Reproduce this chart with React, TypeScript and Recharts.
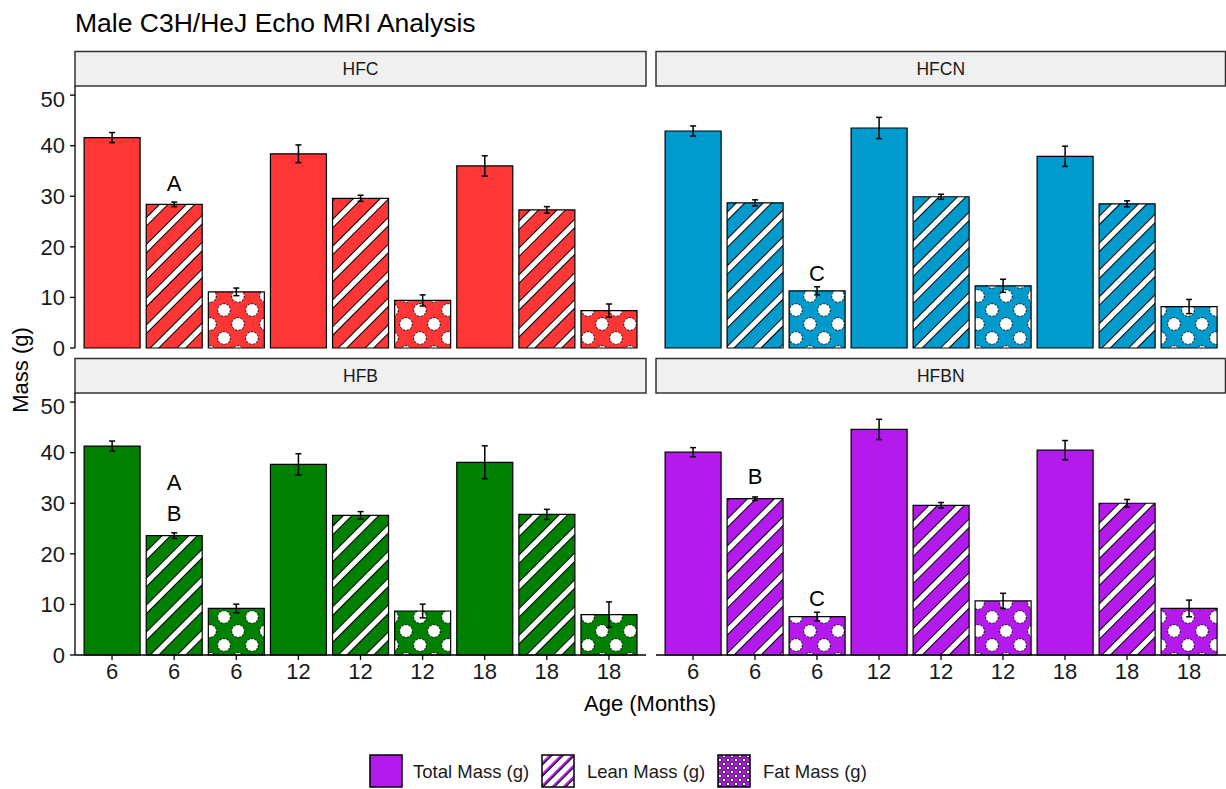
import React from 'react';
import { BarChart, Bar, XAxis, YAxis, Cell, ErrorBar, ReferenceDot } from 'recharts';

// facet order: HFC, HFCN / HFB, HFBN
const ages = ['6', '6', '6', '12', '12', '12', '18', '18', '18'];
const measures = ['Total', 'Lean', 'Fat', 'Total', 'Lean', 'Fat', 'Total', 'Lean', 'Fat'];

const hfcMass = [41.6, 28.4, 11.1, 38.4, 29.6, 9.4, 36.0, 27.3, 7.4];
const hfcErr = [1.0, 0.45, 0.75, 1.75, 0.6, 1.1, 2.0, 0.65, 1.3];
const hfcnMass = [42.9, 28.7, 11.3, 43.5, 29.9, 12.3, 37.9, 28.5, 8.2];
const hfcnErr = [1.0, 0.6, 0.8, 2.1, 0.5, 1.3, 2.0, 0.6, 1.4];
const hfbMass = [41.3, 23.6, 9.2, 37.7, 27.6, 8.7, 38.1, 27.8, 8.0];
const hfbErr = [1.0, 0.55, 0.85, 2.1, 0.75, 1.35, 3.25, 1.0, 2.5];
const hfbnMass = [40.1, 30.9, 7.6, 44.6, 29.6, 10.7, 40.5, 30.0, 9.2];
const hfbnErr = [0.9, 0.35, 0.85, 2.0, 0.55, 1.5, 1.9, 0.75, 1.65];

// significance letters: bar key + height in grams
const hfcLetters = [{ at: '6-Lean', y: 32.5, text: 'A' }];
const hfcnLetters = [{ at: '6-Fat', y: 14.8, text: 'C' }];
const hfbLetters = [
  { at: '6-Lean', y: 34.1, text: 'A' },
  { at: '6-Lean', y: 27.9, text: 'B' },
];
const hfbnLetters = [
  { at: '6-Lean', y: 35.3, text: 'B' },
  { at: '6-Fat', y: 11.2, text: 'C' },
];

const yTicks = [0, 10, 20, 30, 40, 50];
const legendLabels = ['Total Mass (g)', 'Lean Mass (g)', 'Fat Mass (g)'];

const FONT = '"Liberation Sans", Arial, sans-serif';
const RED = '#FF3636';
const BLUE = '#009ACD';
const GREEN = '#008000';
const PURPLE = '#B31AEB';

const makeRows = (mass: number[], err: number[]) =>
  ages.map((age, i) => ({ key: `${age}-${measures[i]}`, mass: mass[i], err: err[i] }));

function Patterns({ id, color }: { id: string; color: string }) {
  return (
    <>
      <pattern id={`stripes-${id}`} patternUnits="userSpaceOnUse" width={19} height={19} patternTransform="rotate(-45)">
        <rect width={19} height={19} fill={color} />
        <rect y={6.5} width={19} height={6} fill="#fff" />
        <line x1={0} x2={19} y1={6.5} y2={6.5} stroke="#000" strokeWidth={1} />
        <line x1={0} x2={19} y1={12.5} y2={12.5} stroke="#000" strokeWidth={1} />
      </pattern>
      <pattern id={`dots-${id}`} patternUnits="userSpaceOnUse" width={28} height={28}>
        <rect width={28} height={28} fill={color} />
        {[[0, 0], [28, 0], [0, 28], [28, 28], [14, 14]].map(([cx, cy], i) => (
          <circle key={i} cx={cx} cy={cy} r={6.3} fill="#fff" stroke="#000" strokeWidth={1} strokeDasharray="2 1.5" />
        ))}
      </pattern>
    </>
  );
}

interface PanelProps {
  id: string;
  color: string;
  mass: number[];
  err: number[];
  letters: { at: string; y: number; text: string }[];
  left: number;
  top: number;
  showY: boolean;
  showX: boolean;
}

function Panel({ id, color, mass, err, letters, left, top, showY, showX }: PanelProps) {
  const rows = makeRows(mass, err);
  const fills = [color, `url(#stripes-${id})`, `url(#dots-${id})`];
  const width = showY ? 646 : 570;
  // hidden x axis: keep room below the plot so the "0" label is not clipped
  const height = showX ? 302 : 277;
  const bottom = showX ? 0 : 15;
  return (
    <div style={{ position: 'absolute', left, top }}>
      <BarChart
        width={width}
        height={height}
        data={rows}
        margin={{ top: 0, right: 0, bottom, left: 0 }}
        barCategoryGap="5%"
      >
        <XAxis
          dataKey="key"
          hide={!showX}
          height={40}
          interval={0}
          padding={{ left: 6, right: 6 }}
          tickFormatter={(k: string) => k.split('-')[0]}
          tick={{ fill: '#1a1a1a', fontSize: 22, fontFamily: FONT }}
          tickSize={5}
          tickMargin={3}
          axisLine={{ stroke: '#000', strokeWidth: 1.3 }}
          tickLine={{ stroke: '#000', strokeWidth: 1.3 }}
        />
        <YAxis
          hide={!showY}
          width={75}
          domain={[0, 51.8]}
          ticks={yTicks}
          tick={{ fill: '#1a1a1a', fontSize: 22, fontFamily: FONT }}
          tickSize={5}
          tickMargin={5}
          axisLine={{ stroke: '#000', strokeWidth: 1.3 }}
          tickLine={{ stroke: '#000', strokeWidth: 1.3 }}
        />
        <Bar dataKey="mass" isAnimationActive={false} stroke="#000" strokeWidth={1.2}>
          {rows.map((r, i) => (
            <Cell key={r.key} fill={fills[i % 3]} />
          ))}
          <ErrorBar dataKey="err" width={3} stroke="#000" strokeWidth={1.5} />
        </Bar>
        {letters.map((l, i) => (
          <ReferenceDot
            key={i}
            x={l.at}
            y={l.y}
            r={0}
            ifOverflow="visible"
            shape={(p: any) => (
              <text x={p.cx} y={p.cy} textAnchor="middle" dominantBaseline="central" fontSize={22} fontFamily={FONT} fill="#000">
                {l.text}
              </text>
            )}
          />
        ))}
      </BarChart>
    </div>
  );
}

function Strip({ x, y, w, label }: { x: number; y: number; w: number; label: string }) {
  return (
    <g>
      <rect x={x} y={y} width={w} height={34.5} fill="#F0F0F0" stroke="#333" strokeWidth={1.5} />
      <text x={x + w / 2} y={y + 17.5} textAnchor="middle" dominantBaseline="central" fontSize={17.5} fill="#1a1a1a">
        {label}
      </text>
    </g>
  );
}

export default function App() {
  const legendKeys = [370, 542, 718];
  const legendText = [413, 587, 763];
  const legendFills = [PURPLE, 'url(#legend-stripes)', 'url(#legend-dots)'];
  return (
    <div style={{ position: 'absolute', left: 0, top: 0, width: 1226, height: 789, overflow: 'hidden', background: '#fff', fontFamily: FONT }}>
      <svg width={1226} height={789} style={{ position: 'absolute', left: 0, top: 0 }} fontFamily={FONT}>
        <defs>
          <Patterns id="hfc" color={RED} />
          <Patterns id="hfcn" color={BLUE} />
          <Patterns id="hfb" color={GREEN} />
          <Patterns id="hfbn" color={PURPLE} />
          <pattern id="legend-stripes" patternUnits="userSpaceOnUse" width={8} height={8} patternTransform="rotate(-45)">
            <rect width={8} height={8} fill="#fff" />
            <rect y={2} width={8} height={2} fill={PURPLE} />
            <line x1={0} x2={8} y1={4.5} y2={4.5} stroke="#000" strokeWidth={1} />
          </pattern>
          <pattern id="legend-dots" patternUnits="userSpaceOnUse" width={8} height={8}>
            <rect width={8} height={8} fill={PURPLE} />
            {[[0, 0], [8, 0], [0, 8], [8, 8], [4, 4]].map(([cx, cy], i) => (
              <circle key={i} cx={cx} cy={cy} r={1.8} fill="#fff" stroke="#000" strokeWidth={0.8} />
            ))}
          </pattern>
        </defs>
        <text x={75} y={32} fontSize={26.5} fill="#000">
          Male C3H/HeJ Echo MRI Analysis
        </text>
        <Strip x={75} y={51.5} w={571} label="HFC" />
        <Strip x={656} y={51.5} w={569.5} label="HFCN" />
        <Strip x={75} y={358.5} w={571} label="HFB" />
        <Strip x={656} y={358.5} w={569.5} label="HFBN" />
        <text x={20} y={370} transform="rotate(-90 20 370)" textAnchor="middle" dominantBaseline="central" fontSize={22} fill="#000">
          Mass (g)
        </text>
        <text x={650} y={711} textAnchor="middle" fontSize={22} fill="#000">
          Age (Months)
        </text>
        {legendLabels.map((lab, i) => (
          <g key={lab}>
            <rect x={legendKeys[i]} y={755} width={32} height={32} fill={legendFills[i]} stroke="#000" strokeWidth={1.5} />
            <text x={legendText[i]} y={771} dominantBaseline="central" fontSize={18.5} fill="#1a1a1a">
              {lab}
            </text>
          </g>
        ))}
      </svg>
      <Panel id="hfc" color={RED} mass={hfcMass} err={hfcErr} letters={hfcLetters} left={0} top={86} showY showX={false} />
      <Panel id="hfcn" color={BLUE} mass={hfcnMass} err={hfcnErr} letters={hfcnLetters} left={656} top={86} showY={false} showX={false} />
      <Panel id="hfb" color={GREEN} mass={hfbMass} err={hfbErr} letters={hfbLetters} left={0} top={393} showY showX />
      <Panel id="hfbn" color={PURPLE} mass={hfbnMass} err={hfbnErr} letters={hfbnLetters} left={656} top={393} showY={false} showX />
    </div>
  );
}
